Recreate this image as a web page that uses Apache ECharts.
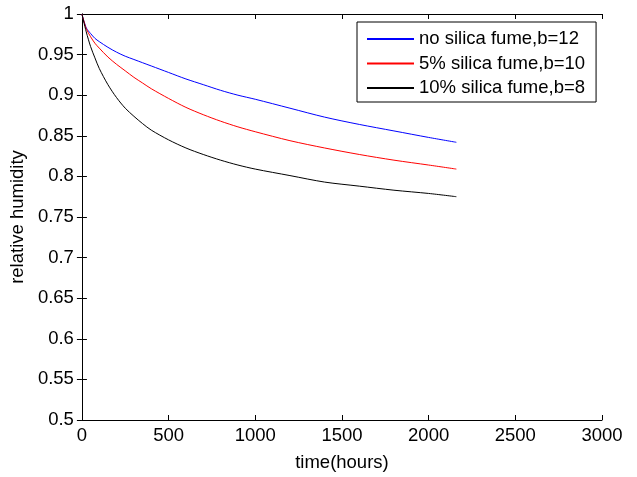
<!DOCTYPE html>
<html>
<head>
<meta charset="utf-8">
<script src="https://cdn.jsdelivr.net/npm/echarts@6/dist/echarts.min.js"></script>
<style>
html,body{margin:0;padding:0;background:#fff;}
#c{width:637px;height:477px;}
</style>
</head>
<body>
<div id="c"></div>
<script>
const seriesNames = ["no silica fume,b=12", "5% silica fume,b=10", "10% silica fume,b=8"];
const times = [0, 25, 50, 75, 100, 150, 200, 250, 300, 350, 400, 500, 600, 700, 800, 900, 1000, 1200, 1400, 1600, 1800, 2000, 2160];
const noSilica = [1.000, 0.983, 0.976, 0.970, 0.966, 0.959, 0.953, 0.948, 0.944, 0.940, 0.936, 0.928, 0.920, 0.913, 0.906, 0.900, 0.895, 0.884, 0.873, 0.864, 0.856, 0.848, 0.842];
const silica5 = [1.000, 0.982, 0.972, 0.964, 0.958, 0.947, 0.938, 0.930, 0.922, 0.915, 0.908, 0.896, 0.885, 0.876, 0.868, 0.861, 0.855, 0.844, 0.835, 0.827, 0.820, 0.814, 0.809];
const silica10 = [1.000, 0.978, 0.960, 0.946, 0.933, 0.913, 0.897, 0.884, 0.874, 0.865, 0.857, 0.845, 0.835, 0.827, 0.820, 0.814, 0.809, 0.801, 0.793, 0.788, 0.783, 0.779, 0.775];
const xTicks = {min: 0, max: 3000, interval: 500};
const yTicks = {min: 0.5, max: 1, interval: 0.05};
const colors = ["#0000ff", "#ff0000", "#000000"];

const font = "Liberation Sans, Arial, sans-serif";
const fs = 18.5;
const chart = echarts.init(document.getElementById('c'), null, {renderer: 'canvas'});
const pair = (arr) => times.map((t, i) => [t, arr[i]]);
const allData = [noSilica, silica5, silica10];

const tickStyle = {inside: true, length: 5, lineStyle: {color: '#000', width: 1}};
const axisLine = {show: true, lineStyle: {color: '#000', width: 1}};

chart.setOption({
  animation: false,
  backgroundColor: '#fff',
  color: colors,
  grid: {left: 81, top: 14, right: 35, bottom: 55, containLabel: false},
  legend: {
    orient: 'vertical',
    left: 357, top: 22,
    padding: [7, 11, 4, 10],
    itemWidth: 47, itemHeight: 2, itemGap: 4.5,
    backgroundColor: '#fff',
    borderColor: '#000', borderWidth: 1, borderRadius: 0,
    icon: 'rect',
    textStyle: {fontFamily: font, fontSize: fs, color: '#000', lineHeight: 20},
    data: seriesNames.map((n, i) => ({
      name: n,
      itemStyle: {color: colors[i], borderWidth: 0, opacity: 1}
    }))
  },
  xAxis: [{
    type: 'value', position: 'bottom',
    min: xTicks.min, max: xTicks.max, interval: xTicks.interval,
    name: 'time(hours)', nameLocation: 'middle', nameGap: 33,
    nameTextStyle: {fontFamily: font, fontSize: fs, color: '#000'},
    axisLine: axisLine, axisTick: tickStyle,
    axisLabel: {fontFamily: font, fontSize: fs, color: '#000', margin: 6, formatter: (v) => String(v)},
    splitLine: {show: false}
  }, {
    type: 'value', position: 'top',
    min: xTicks.min, max: xTicks.max, interval: xTicks.interval,
    axisLine: axisLine, axisTick: tickStyle,
    axisLabel: {show: false}, splitLine: {show: false}
  }],
  yAxis: [{
    type: 'value', position: 'left',
    min: yTicks.min, max: yTicks.max, interval: yTicks.interval,
    name: 'relative humidity', nameLocation: 'middle', nameGap: 43,
    nameTextStyle: {fontFamily: font, fontSize: fs, color: '#000'},
    axisLine: axisLine, axisTick: tickStyle,
    axisLabel: {fontFamily: font, fontSize: fs, color: '#000', margin: 8, formatter: (v) => String(+v.toFixed(2))},
    splitLine: {show: false}
  }, {
    type: 'value', position: 'right',
    min: yTicks.min, max: yTicks.max, interval: yTicks.interval,
    axisLine: axisLine, axisTick: tickStyle,
    axisLabel: {show: false}, splitLine: {show: false}
  }],
  series: seriesNames.map((n, i) => ({
    name: n, type: 'line', xAxisIndex: 0, yAxisIndex: 0,
    data: pair(allData[i]), smooth: 0.3, symbol: 'none', showSymbol: false,
    color: colors[i],
    lineStyle: {color: colors[i], width: 1}, itemStyle: {color: colors[i]}
  }))
});
</script>
</body>
</html>
